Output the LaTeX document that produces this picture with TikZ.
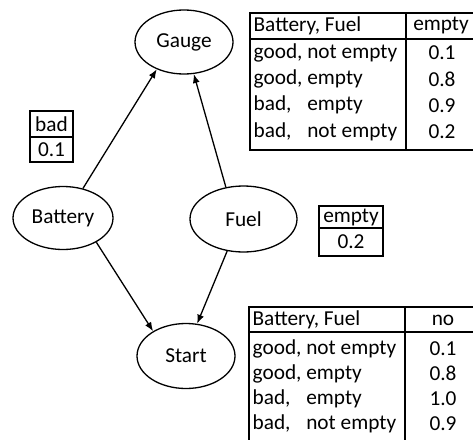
\documentclass[tikz,border=0pt]{standalone}
\usepackage{fontspec}
\setmainfont{Carlito}
\usetikzlibrary{shapes.geometric,arrows.meta}
\tikzset{
  net details/.style={
    x=1pt, y=-1pt,
    >={Latex[length=9pt,width=7pt]},
    line width=1.3pt,
    every node/.style={font=\fontsize{21.3}{25}\selectfont},
  },
  randvar/.style={ellipse, draw, inner sep=0pt},
  link/.style={->},
  cell/.style={anchor=west, inner sep=0pt},
  val/.style={inner sep=0pt},
}
\newcommand{\badpad}[1]{\rlap{bad,}\phantom{good,} #1}

\begin{document}
\begin{tikzpicture}[net details]
\useasboundingbox (0,0) rectangle (473,439);
% the four variables
\node[randvar, minimum width=98pt, minimum height=64pt] (gauge) at (184,42) {Gauge};
\node[randvar, minimum width=100pt, minimum height=63pt] (battery) at (63,218) {Battery};
\node[randvar, minimum width=107pt, minimum height=66pt] (fuel) at (243.5,219) {Fuel};
\node[randvar, minimum width=98pt, minimum height=65pt] (start) at (186,356) {Start};
\draw[link] (battery.56) -- (gauge.-135);
\draw[link] (fuel.119) -- (gauge.-73);
\draw[link] (battery.-36) -- (start.143);
\draw[link] (fuel.-117) -- (start.71);
% priors
\draw (30,111) rectangle (73,162) (30,137) -- (73,137);
\node[val] (badp) at (51.5,124) {bad};
\node[val] (badv) at (51.5,149.5) {0.1};
\draw (319,206) rectangle (383,256) (319,228) -- (383,228);
\node[val] (emptyp) at (351,217) {empty};
\node[val] (emptyv) at (351,242) {0.2};
% table for gauge
\draw (474,13) -- (250,13) -- (250,150) -- (474,150)
  (250,39) -- (474,39) (406,13) -- (406,150);
\node[cell] (gh) at (253,26) {Battery, Fuel};
\node[val] (ghv) at (441,25) {empty};
\foreach \lab/\num [count=\i] in {{good, not empty}/0.1, {good, empty}/0.8,
    {\badpad{empty}}/0.9, {\badpad{not empty}}/0.2} {
  \node[cell] (gr\i) at (253,{26.5+26.3*\i}) {\lab};
  \node[val] (gv\i) at (442,{26.5+26.3*\i}) {\num};
}
% table for start
\draw (474,307) -- (249,307) -- (249,440)
  (249,332) -- (474,332) (405,307) -- (405,440);
\node[cell] (sh) at (252,320) {Battery, Fuel};
\node[val] (shv) at (443,320) {no};
\foreach \lab/\num [count=\i] in {{good, not empty}/0.1, {good, empty}/0.8,
    {\badpad{empty}}/1.0, {\badpad{not empty}}/0.9} {
  \node[cell] (sr\i) at (252,{323.5+25*\i}) {\lab};
  \node[val] (sv\i) at (443,{323.5+25*\i}) {\num};
}
\end{tikzpicture}
\end{document}
